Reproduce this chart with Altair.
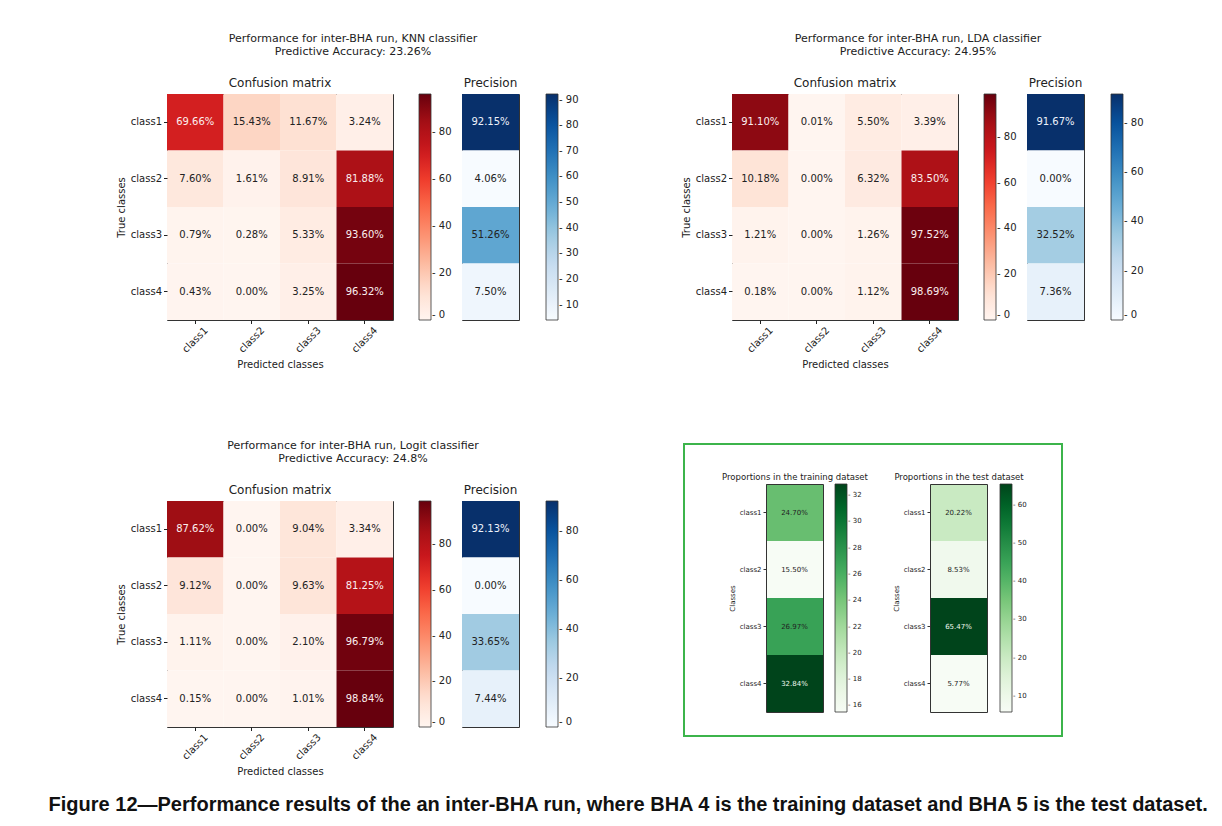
import altair as alt
import pandas as pd

classes = ["class1", "class2", "class3", "class4"]

# Confusion matrices (rows = true class, columns = predicted class), in %
knn_cm = [[69.66, 15.43, 11.67, 3.24],
          [7.60, 1.61, 8.91, 81.88],
          [0.79, 0.28, 5.33, 93.60],
          [0.43, 0.00, 3.25, 96.32]]
knn_prec = [92.15, 4.06, 51.26, 7.50]
knn_acc = "23.26%"

lda_cm = [[91.10, 0.01, 5.50, 3.39],
          [10.18, 0.00, 6.32, 83.50],
          [1.21, 0.00, 1.26, 97.52],
          [0.18, 0.00, 1.12, 98.69]]
lda_prec = [91.67, 0.00, 32.52, 7.36]
lda_acc = "24.95%"

logit_cm = [[87.62, 0.00, 9.04, 3.34],
            [9.12, 0.00, 9.63, 81.25],
            [1.11, 0.00, 2.10, 96.79],
            [0.15, 0.00, 1.01, 98.84]]
logit_prec = [92.13, 0.00, 33.65, 7.44]
logit_acc = "24.8%"

train_prop = [24.70, 15.50, 26.97, 32.84]
test_prop = [20.22, 8.53, 65.47, 5.77]

# colorbar tick labels
cm_ticks = [0, 20, 40, 60, 80]
knn_prec_ticks = [10, 20, 30, 40, 50, 60, 70, 80, 90]
other_prec_ticks = [0, 20, 40, 60, 80]
train_ticks = [16, 18, 20, 22, 24, 26, 28, 30, 32]
test_ticks = [10, 20, 30, 40, 50, 60]

caption = ("Figure 12\u2014Performance results of the an inter-BHA run, where BHA 4 "
           "is the training dataset and BHA 5 is the test dataset.")

# matplotlib (ColorBrewer) colormaps
REDS = ["#fff5f0", "#fee0d2", "#fcbba1", "#fc9272", "#fb6a4a", "#ef3b2c", "#cb181d", "#a50f15", "#67000d"]
BLUES = ["#f7fbff", "#deebf7", "#c6dbef", "#9ecae1", "#6baed6", "#4292c6", "#2171b5", "#08519c", "#08306b"]
GREENS = ["#f7fcf5", "#e5f5e0", "#c7e9c0", "#a1d99b", "#74c476", "#41ab5d", "#238b45", "#006d2c", "#00441b"]

FONT = "DejaVu Sans"
TXT = "#222222"
TICK_LABEL = "'- ' + datum.label"


def pct(v):
    return "%.2f%%" % v


def cmap_scale(colors, lo, hi):
    n = len(colors) - 1
    return alt.Scale(domain=[lo + (hi - lo) * k / n for k in range(n + 1)], range=colors,
                     interpolate="rgb")


def bar_legend(ticks, length, offset, size=10):
    return alt.Legend(title=None, orient="right", offset=offset, type="gradient",
                      direction="vertical", gradientLength=length, gradientThickness=12,
                      values=ticks, labelFontSize=size, labelOverlap=False,
                      gradientStrokeColor="#333333", gradientStrokeWidth=0.8,
                      labelOffset=1, labelColor=TXT, labelFont=FONT, labelExpr=TICK_LABEL)


def cm_chart(cm, ticks):
    rows = []
    for i, t in enumerate(classes):
        for j, p in enumerate(classes):
            rows.append({"true": t, "pred": p, "value": cm[i][j], "label": pct(cm[i][j])})
    df = pd.DataFrame(rows)
    vals = [v for r in cm for v in r]
    base = alt.Chart(df).encode(
        x=alt.X("pred:N", sort=classes,
                axis=alt.Axis(title="Predicted classes", labelAngle=-45, labelAlign="center",
                              labelBaseline="middle", labelPadding=16, tickSize=3.5,
                              tickColor="#222", domain=False, labelFontSize=10,
                              titleFontSize=10, titleFontWeight="normal", titlePadding=5)),
        y=alt.Y("true:N", sort=classes,
                axis=alt.Axis(title="True classes", tickSize=3.5, tickColor="#222",
                              domain=False, labelFontSize=10, labelPadding=2,
                              titleFontSize=10, titleFontWeight="normal", titlePadding=4)),
    )
    rect = base.mark_rect().encode(
        color=alt.Color("value:Q", scale=cmap_scale(REDS, min(vals), max(vals)),
                        legend=bar_legend(ticks, 226, 26)))
    text = base.mark_text(font=FONT, fontSize=10).encode(
        text="label:N",
        color=alt.condition(alt.datum.value > 60, alt.value("#fbeeee"), alt.value(TXT)))
    return alt.layer(rect, text).properties(
        width=226, height=226,
        title=alt.TitleParams("Confusion matrix", font=FONT, fontSize=12, fontWeight="normal",
                              offset=4, color=TXT))


def prec_chart(prec, ticks):
    df = pd.DataFrame({"cls": classes, "value": prec, "label": [pct(v) for v in prec]})
    base = alt.Chart(df).encode(y=alt.Y("cls:N", sort=classes, axis=None))
    rect = base.mark_rect().encode(
        color=alt.Color("value:Q", scale=cmap_scale(BLUES, min(prec), max(prec)),
                        legend=bar_legend(ticks, 226, 27)))
    text = base.mark_text(font=FONT, fontSize=10).encode(
        text="label:N",
        color=alt.condition(alt.datum.value > 60, alt.value("#eef2fb"), alt.value(TXT)))
    return alt.layer(rect, text).properties(
        width=57, height=226,
        title=alt.TitleParams("Precision", font=FONT, fontSize=12, fontWeight="normal",
                              offset=4, color=TXT))


def header(lines, width):
    df = pd.DataFrame({"line": lines})
    return alt.Chart(df).mark_text(font=FONT, fontSize=11, color=TXT).encode(
        text="line:N",
        y=alt.Y("line:N", sort=lines, axis=None,
                scale=alt.Scale(range=[-5, 21], paddingInner=0, paddingOuter=0)),
    ).properties(width=width, height=26, view=alt.ViewBackground(strokeOpacity=0))


def panel(name, acc, cm, prec, prec_ticks):
    body = alt.hconcat(cm_chart(cm, cm_ticks), prec_chart(prec, prec_ticks),
                       spacing=8).resolve_scale(color="independent")
    head = header(["Performance for inter-BHA run, %s classifier" % name,
                   "Predictive Accuracy: %s" % acc], 372)
    return alt.vconcat(head, body, spacing=13)


PW, PH = 378, 292
Y0, Y1 = 40, 268


def prop_column(values, title, xr, ticks, legend_x, thresh):
    df = pd.DataFrame({"set": [title] * 4, "cls": classes, "value": values,
                       "label": [pct(v) for v in values]})
    xs = alt.Scale(domain=[title], range=xr, paddingInner=0, paddingOuter=0)
    ys = alt.Scale(domain=classes, range=[Y0, Y1], paddingInner=0, paddingOuter=0)
    heat = alt.Chart(df).mark_rect().encode(
        x=alt.X("set:N", scale=xs,
                axis=alt.Axis(orient="top", offset=-Y0, title=title, labels=False, ticks=False,
                              domain=True, domainColor="#333", domainWidth=1, zindex=1,
                              titleFontSize=8.5, titleFontWeight="normal", titlePadding=3)),
        y=alt.Y("cls:N", scale=ys,
                axis=alt.Axis(orient="left", offset=-xr[0], title="Classes", domain=True,
                              domainColor="#333", zindex=1, tickSize=3, tickColor="#333",
                              labelFontSize=7, labelPadding=2, titleFontSize=7,
                              titleFontWeight="normal", titlePadding=4)),
        color=alt.Color("value:Q", scale=cmap_scale(GREENS, min(values), max(values)),
                        legend=alt.Legend(title=None, orient="none", legendX=legend_x, legendY=Y0,
                                          type="gradient", direction="vertical",
                                          gradientLength=Y1 - Y0, gradientThickness=12,
                                          values=ticks, labelFontSize=7, labelOverlap=False,
                                          gradientStrokeColor="#333333", gradientStrokeWidth=0.8,
                                          labelOffset=1, labelColor=TXT, labelFont=FONT,
                                          labelExpr=TICK_LABEL)))
    txt = alt.Chart(df).mark_text(font=FONT, fontSize=7).encode(
        x=alt.X("set:N", scale=xs,
                axis=alt.Axis(orient="bottom", offset=Y1 - PH, title=None, labels=False,
                              ticks=False, domain=True, domainColor="#333", zindex=1)),
        y=alt.Y("cls:N", scale=ys,
                axis=alt.Axis(orient="right", offset=xr[1] - PW, title=None, labels=False,
                              ticks=False, domain=True, domainColor="#333", zindex=1)),
        text="label:N",
        color=alt.condition(alt.datum.value > thresh, alt.value("#eef8ee"), alt.value(TXT)))
    return alt.layer(heat, txt).resolve_axis(x="independent", y="independent")


props = alt.layer(
    prop_column(train_prop, "Proportions in the training dataset", [82, 139], train_ticks, 151, 30),
    prop_column(test_prop, "Proportions in the test dataset", [246, 303], test_ticks, 316, 50),
).resolve_scale(x="independent", y="independent", color="independent").properties(
    width=PW, height=PH, view=alt.ViewBackground(stroke="#3cb44b", strokeWidth=2))

row1 = alt.hconcat(panel("KNN", knn_acc, knn_cm, knn_prec, knn_prec_ticks),
                   panel("LDA", lda_acc, lda_cm, lda_prec, other_prec_ticks),
                   spacing=100).resolve_scale(color="independent")
row2 = alt.hconcat(panel("Logit", logit_acc, logit_cm, logit_prec, other_prec_ticks),
                   props, spacing=103).resolve_scale(color="independent")

chart = alt.vconcat(row1, row2, spacing=69).resolve_scale(color="independent").properties(
    title=alt.TitleParams(caption, orient="bottom", anchor="middle",
                          font="Liberation Sans", fontSize=20, fontWeight="bold",
                          color="#111111", offset=18, dx=-2),
    padding={"left": 39, "top": 24, "right": 5, "bottom": 5},
    background="white",
).configure_view(stroke="#333333", strokeWidth=1).configure_axis(
    labelFont=FONT, titleFont=FONT, labelColor=TXT, titleColor=TXT, grid=False
).configure_title(font=FONT, color=TXT)

chart.save("out.html", embed_options={"renderer": "svg", "actions": False})
